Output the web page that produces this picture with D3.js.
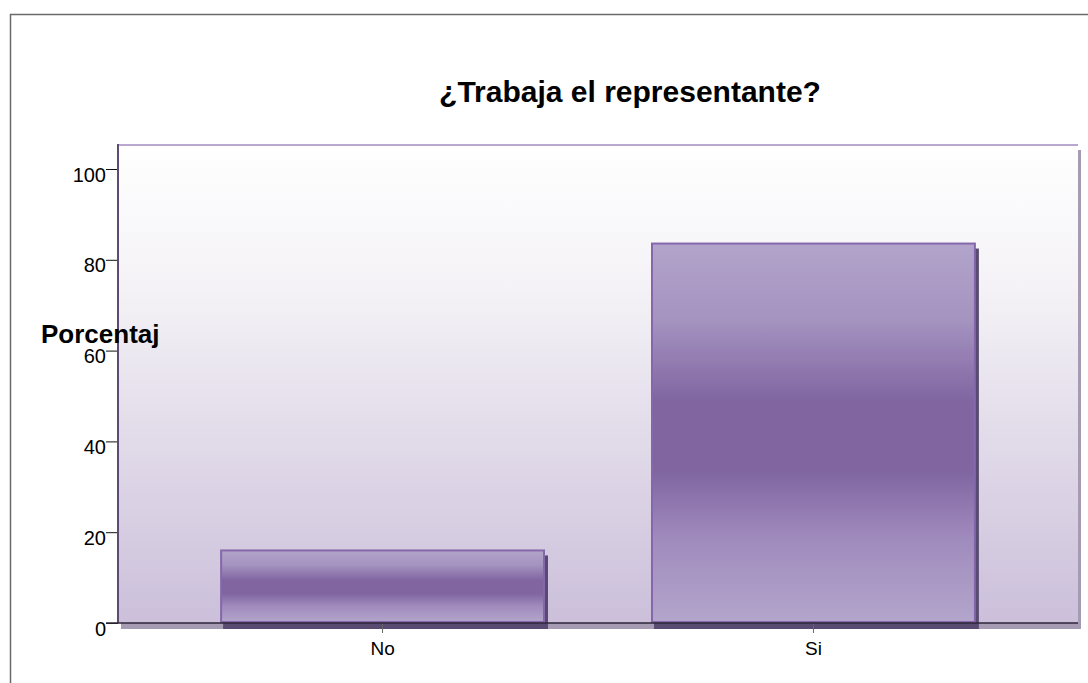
<!DOCTYPE html>
<html>
<head>
<meta charset="utf-8">
<script src="https://cdn.jsdelivr.net/npm/d3@7"></script>
<style>
  body { margin: 0; background: #fff; }
  text { font-family: "Liberation Sans", Arial, sans-serif; }
</style>
</head>
<body>
<div id="chart"></div>
<script>
const categories = ["No", "Si"]
const percentages = [16.2, 83.8]
const yTicks = [0, 20, 40, 60, 80, 100]

const width = 1088
const height = 683
const plot = { left: 118, right: 1078, top: 144, bottom: 623 }

const svg = d3.select("#chart")
  .append("svg")
  .attr("width", width)
  .attr("height", height)

// outer frame (left + top only visible)
svg.append("path")
  .attr("d", `M10.5 ${height} V14.5 H${width}`)
  .attr("fill", "none")
  .attr("stroke", "#6a6a6a")
  .attr("stroke-width", 1.5)

const defs = svg.append("defs")

const bg = defs.append("linearGradient")
  .attr("id", "bg").attr("x1", 0).attr("y1", 0).attr("x2", 0).attr("y2", 1)
bg.append("stop").attr("offset", 0).attr("stop-color", "#ffffff")
bg.append("stop").attr("offset", 0.3).attr("stop-color", "#f4f2f6")
bg.append("stop").attr("offset", 1).attr("stop-color", "#cbbfda")

const barGrad = defs.append("linearGradient")
  .attr("id", "bar").attr("x1", 0).attr("y1", 0).attr("x2", 0).attr("y2", 1)
barGrad.append("stop").attr("offset", 0).attr("stop-color", "#b2a4ca")
barGrad.append("stop").attr("offset", 0.2).attr("stop-color", "#a593c0")
barGrad.append("stop").attr("offset", 0.42).attr("stop-color", "#8065a1")
barGrad.append("stop").attr("offset", 0.6).attr("stop-color", "#8065a1")
barGrad.append("stop").attr("offset", 0.78).attr("stop-color", "#a08bbd")
barGrad.append("stop").attr("offset", 1).attr("stop-color", "#b3a5cb")

const x = d3.scaleBand()
  .domain(categories)
  .range([plot.left, plot.right])
  .paddingInner(0.246)
  .paddingOuter(0.237)

const y = d3.scaleLinear()
  .domain([0, 100])
  .range([plot.bottom, plot.bottom - 454])

// plot area shadow
svg.append("rect")
  .attr("x", plot.left + 3)
  .attr("y", plot.top + 6)
  .attr("width", plot.right - plot.left)
  .attr("height", plot.bottom - plot.top)
  .attr("fill", "#a59bb2")

// plot area
svg.append("rect")
  .attr("x", plot.left)
  .attr("y", plot.top)
  .attr("width", plot.right - plot.left)
  .attr("height", plot.bottom - plot.top)
  .attr("fill", "url(#bg)")

svg.append("line")
  .attr("x1", plot.left).attr("x2", plot.right)
  .attr("y1", plot.top + 1).attr("y2", plot.top + 1)
  .attr("stroke", "#b9a9d1").attr("stroke-width", 2)

// bar shadows
svg.append("g")
  .selectAll("rect")
  .data(percentages)
  .join("rect")
  .attr("x", (d, i) => x(categories[i]) + 3)
  .attr("y", d => y(d) + 6)
  .attr("width", x.bandwidth())
  .attr("height", d => y(0) - y(d))
  .attr("fill", "#584a70")

// bars
svg.append("g")
  .selectAll("rect")
  .data(percentages)
  .join("rect")
  .attr("x", (d, i) => x(categories[i]) + 1)
  .attr("y", d => y(d) + 1)
  .attr("width", x.bandwidth() - 2)
  .attr("height", d => y(0) - y(d) - 2)
  .attr("fill", "url(#bar)")
  .attr("stroke", "#8567ab")
  .attr("stroke-width", 2)

// axes
const yAxis = d3.axisLeft(y).tickValues(yTicks).tickSize(12).tickPadding(0).tickFormat(d3.format("d"))
const gy = svg.append("g")
  .attr("transform", `translate(${plot.left} 0)`)
  .call(yAxis)
gy.select(".domain").remove()
gy.selectAll("text")
  .attr("font-size", 20)
  .attr("fill", "#000")
  .attr("dy", null)
  .attr("y", 12)
gy.selectAll(".tick line").attr("stroke", "#111")

svg.append("line")
  .attr("x1", plot.left).attr("x2", plot.left)
  .attr("y1", plot.top).attr("y2", plot.bottom)
  .attr("stroke", "#5c4c72").attr("stroke-width", 2)

const xAxis = d3.axisBottom(x).tickSize(10)
const gx = svg.append("g")
  .attr("transform", `translate(0 ${plot.bottom})`)
  .call(xAxis)
gx.select(".domain").remove()
gx.selectAll("text")
  .attr("font-size", 19)
  .attr("fill", "#000")
  .attr("dy", null)
  .attr("y", 32)
gx.selectAll(".tick line").attr("stroke", "#666")

svg.append("line")
  .attr("x1", plot.left - 12).attr("x2", plot.right)
  .attr("y1", plot.bottom).attr("y2", plot.bottom)
  .attr("stroke", "#2e2638").attr("stroke-width", 1.5)

// titles
svg.append("text")
  .attr("x", 630)
  .attr("y", 102)
  .attr("text-anchor", "middle")
  .attr("font-size", 30)
  .attr("font-weight", "bold")
  .text("¿Trabaja el representante?")

svg.append("text")
  .attr("x", 41)
  .attr("y", 343)
  .attr("font-size", 26)
  .attr("font-weight", "bold")
  .text("Porcentaj")
</script>
</body>
</html>
